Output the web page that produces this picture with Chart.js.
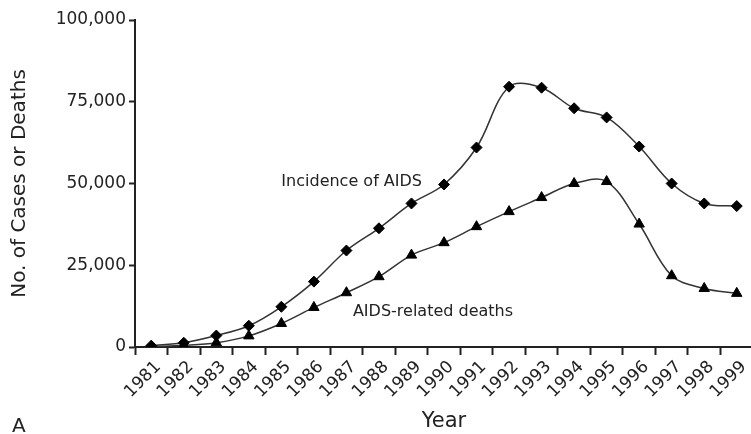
<!DOCTYPE html>
<html><head><meta charset="utf-8">
<script src="https://cdn.jsdelivr.net/npm/chart.js@4/dist/chart.umd.min.js"></script>
<style>html,body{margin:0;padding:0;overflow:hidden;background:#fff;}canvas{display:block;}</style>
</head><body>
<canvas id="c" width="760" height="434"></canvas>
<script>
const years = ['1981','1982','1983','1984','1985','1986','1987','1988','1989','1990','1991','1992','1993','1994','1995','1996','1997','1998','1999'];
const incidence = [400, 1300, 3500, 6500, 12300, 20000, 29500, 36300, 43900, 49700, 61000, 79600, 79300, 73000, 70200, 61300, 50000, 43900, 43100];
const deaths = [100, 500, 1300, 3400, 7200, 12100, 16600, 21500, 28100, 31900, 36800, 41400, 45700, 50000, 50600, 37600, 21800, 17900, 16400];
const yTicks = [0, 25000, 50000, 75000, 100000];
const seriesLabels = ['Incidence of AIDS', 'AIDS-related deaths'];
// annotation anchors in data coordinates: [category index, value]
const labelAnchors = [[4.0, 50500], [6.2, 10700]];

const FONT = '"DejaVu Sans", sans-serif';
const annot = {
  id: 'annot',
  afterDraw(chart) {
    const ctx = chart.ctx, xs = chart.scales.x, ys = chart.scales.y;
    ctx.save();
    ctx.fillStyle = '#222';
    ctx.font = '16px ' + FONT;
    ctx.textBaseline = 'middle';
    ctx.textAlign = 'left';
    seriesLabels.forEach((t, i) => {
      ctx.fillText(t, xs.getPixelForValue(labelAnchors[i][0]), ys.getPixelForValue(labelAnchors[i][1]));
    });
    ctx.font = '20px ' + FONT;
    ctx.fillText('A', 12, 427);
    ctx.restore();
  }
};

new Chart(document.getElementById('c'), {
  type: 'line',
  data: {
    labels: years,
    datasets: [
      { label: seriesLabels[0], data: incidence, borderColor: '#333', borderWidth: 1.5, tension: 0.35,
        pointStyle: 'rectRot', pointRadius: 5.5, pointBackgroundColor: '#000', pointBorderColor: '#000', pointBorderWidth: 1 },
      { label: seriesLabels[1], data: deaths, borderColor: '#333', borderWidth: 1.5, tension: 0.35,
        pointStyle: 'triangle', pointRadius: 6, pointBackgroundColor: '#000', pointBorderColor: '#000', pointBorderWidth: 1 }
    ]
  },
  options: {
    responsive: false,
    animation: false,
    layout: { padding: { left: 0, right: 6, top: 20, bottom: 0 } },
    plugins: { legend: { display: false }, tooltip: { enabled: false } },
    scales: {
      x: {
        type: 'category',
        offset: true,
        grid: { offset: true, drawOnChartArea: false, drawTicks: true, tickLength: 8, tickWidth: 2, tickColor: '#222' },
        border: { display: true, color: '#222', width: 2 },
        ticks: { color: '#222', font: { family: FONT, size: 17 }, minRotation: 45, maxRotation: 45, autoSkip: false, padding: 2, labelOffset: 7 },
        title: { display: true, text: 'Year', color: '#222', font: { family: FONT, size: 21 }, padding: { top: 0, bottom: 0 } },
        afterFit(s) { s.height = 87; }
      },
      y: {
        min: 0, max: 100000,
        afterBuildTicks(s) { s.ticks = yTicks.map(v => ({ value: v })); },
        grid: { drawOnChartArea: false, drawTicks: true, tickLength: 6, tickWidth: 2, tickColor: '#222' },
        border: { display: true, color: '#222', width: 2 },
        ticks: { color: '#222', font: { family: FONT, size: 17 }, padding: 3,
          callback: v => v.toLocaleString('en-US') },
        title: { display: true, text: 'No. of Cases or Deaths', color: '#222', font: { family: FONT, size: 20 }, padding: { top: 8, bottom: 0 } },
        afterFit(s) { s.width = 135; }
      }
    }
  },
  plugins: [annot]
});
</script>
</body></html>
